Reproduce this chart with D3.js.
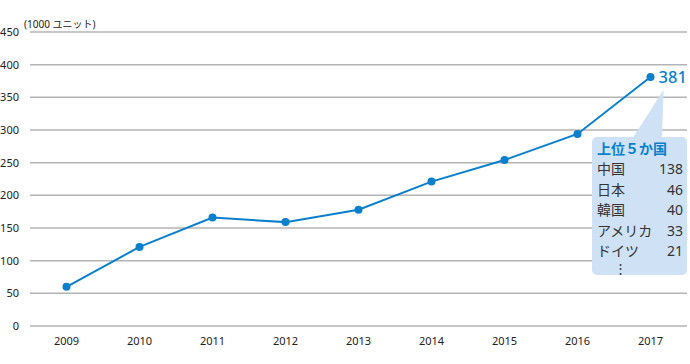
<!DOCTYPE html>
<html>
<head>
<meta charset="utf-8">
<script src="https://cdn.jsdelivr.net/npm/d3@7"></script>
<style>
  body { margin: 0; background: #fff; }
  svg { display: block; font-family: "Noto Sans", "Noto Sans CJK JP", sans-serif; }
</style>
</head>
<body>
<svg width="690" height="364"></svg>
<script>
// data
var years = ["2009", "2010", "2011", "2012", "2013", "2014", "2015", "2016", "2017"];
var units = [60, 121, 166, 159, 178, 221, 254, 294, 381];
var yTicks = [0, 50, 100, 150, 200, 250, 300, 350, 400, 450];
var topCountries = ["中国", "日本", "韓国", "アメリカ", "ドイツ"];
var topValues = [138, 46, 40, 33, 21];

var blue = "#0a7fcc";
var margin = { top: 32, right: 3, bottom: 38, left: 30 };
var width = 690, height = 364;

var svg = d3.select("svg");

var x = d3.scaleBand()
    .domain(years)
    .range([margin.left, width - margin.right]);
var y = d3.scaleLinear()
    .domain([0, 450])
    .range([height - margin.bottom, margin.top]);

// grid
svg.append("g").selectAll("line")
    .data(yTicks)
    .enter().append("line")
    .attr("x1", margin.left)
    .attr("x2", width - margin.right)
    .attr("y1", function(d) { return y(d); })
    .attr("y2", function(d) { return y(d); })
    .attr("stroke", "#b4b4b4")
    .attr("stroke-width", 1.5);

// y labels
svg.append("g").selectAll("text")
    .data(yTicks)
    .enter().append("text")
    .attr("x", 19)
    .attr("y", function(d) { return y(d) + 4; })
    .attr("text-anchor", "end")
    .attr("font-size", 11)
    .attr("fill", "#222")
    .text(function(d) { return d; });

svg.append("text")
    .attr("x", 24)
    .attr("y", 28)
    .attr("font-size", 10)
    .attr("fill", "#222")
    .text("(1000 ユニット)");

// x labels
svg.append("g").selectAll("text")
    .data(years)
    .enter().append("text")
    .attr("x", function(d) { return x(d) + x.bandwidth() / 2; })
    .attr("y", height - 19)
    .attr("text-anchor", "middle")
    .attr("font-size", 11)
    .attr("fill", "#222")
    .text(function(d) { return d; });

// line
var pts = years.map(function(d, i) { return [x(d) + x.bandwidth() / 2, y(units[i])]; });
svg.append("path")
    .attr("d", d3.line()(pts))
    .attr("fill", "none")
    .attr("stroke", blue)
    .attr("stroke-width", 2);

svg.append("g").selectAll("circle")
    .data(pts)
    .enter().append("circle")
    .attr("cx", function(d) { return d[0]; })
    .attr("cy", function(d) { return d[1]; })
    .attr("r", 4)
    .attr("fill", blue);

// last value label
var last = pts[pts.length - 1];
svg.append("text")
    .attr("x", last[0] + 8)
    .attr("y", last[1] + 6)
    .attr("font-size", 16.5)
    .attr("font-weight", 500)
    .attr("fill", blue)
    .text(units[units.length - 1]);

// callout box
var bx = 592, by = 137, bw = 95, bh = 138;
var boxFill = "#cfe2f5";
svg.append("path")
    .attr("d", "M" + (bx + 40) + "," + (by + 2) + "L" + (last[0] + 13) + "," + (last[1] + 13) + "L" + (bx + 70) + "," + (by + 2) + "Z")
    .attr("fill", boxFill);
svg.append("rect")
    .attr("x", bx).attr("y", by)
    .attr("width", bw).attr("height", bh)
    .attr("rx", 5)
    .attr("fill", boxFill);

svg.append("text")
    .attr("x", bx + 5)
    .attr("y", by + 17)
    .attr("font-size", 14)
    .attr("font-weight", "bold")
    .attr("fill", blue)
    .text("上位５か国");

var rows = svg.append("g").selectAll("g")
    .data(topCountries)
    .enter().append("g")
    .attr("transform", function(d, i) { return "translate(0," + (by + 37 + i * 20.6) + ")"; });
rows.append("text")
    .attr("x", bx + 5)
    .attr("font-size", 14)
    .attr("fill", "#333")
    .text(function(d) { return d; });
rows.append("text")
    .attr("x", bx + bw - 4)
    .attr("text-anchor", "end")
    .attr("font-size", 14)
    .attr("fill", "#333")
    .text(function(d, i) { return topValues[i]; });

svg.append("text")
    .attr("x", bx + 22)
    .attr("y", by + 136)
    .attr("font-size", 13)
    .attr("fill", "#333")
    .text("⋮");
</script>
</body>
</html>
